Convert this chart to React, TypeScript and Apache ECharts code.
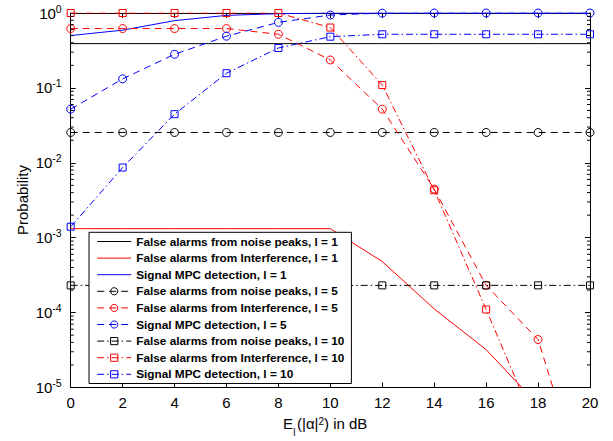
import React, { useEffect, useRef } from 'react';
import * as echarts from 'echarts';

const xValues = [0, 2, 4, 6, 8, 10, 12, 14, 16, 18, 20];

const noiseL1 = [0.39, 0.39, 0.39, 0.39, 0.39, 0.39, 0.39, 0.39, 0.39, 0.39, 0.39];
const interfL1 = [1.32e-3, 1.32e-3, 1.32e-3, 1.32e-3, 1.32e-3, 1.32e-3, 4.8e-4, 1.12e-4, 3.2e-5, 5.9e-6, 1.2e-6];
const signalL1 = [0.5, 0.59, 0.79, 0.93, 0.98, 1, 1, 1, 1, 1, 1];

const noiseL5 = [0.0254, 0.0254, 0.0254, 0.0254, 0.0254, 0.0254, 0.0254, 0.0254, 0.0254, 0.0254, 0.0254];
const interfL5 = [0.62, 0.62, 0.62, 0.62, 0.52, 0.236, 0.052, 4.46e-3, 2.31e-4, 4.37e-5, 2.5e-7];
const signalL5 = [0.052, 0.132, 0.281, 0.49, 0.75, 0.94, 0.995, 1, 1, 1, 1];

const noiseL10 = [2.31e-4, 2.31e-4, 2.31e-4, 2.31e-4, 2.31e-4, 2.31e-4, 2.31e-4, 2.31e-4, 2.31e-4, 2.31e-4, 2.31e-4];
const interfL10 = [1, 1, 1, 1, 1, 0.64, 0.109, 4.3e-3, 1.1e-4, 2.6e-6, 1e-8];
const signalL10 = [1.4e-3, 8.65e-3, 0.0446, 0.157, 0.341, 0.483, 0.52, 0.52, 0.52, 0.52, 0.52];

const seriesNames = [
  'False alarms from noise peaks, l = 1',
  'False alarms from Interference, l = 1',
  'Signal MPC detection, l = 1',
  'False alarms from noise peaks, l = 5',
  'False alarms from Interference, l = 5',
  'Signal MPC detection, l = 5',
  'False alarms from noise peaks, l = 10',
  'False alarms from Interference, l = 10',
  'Signal MPC detection, l = 10',
];

const minorMultipliers = [2, 3, 4, 5, 6, 7, 8, 9];
const decades = [1e-5, 1e-4, 1e-3, 1e-2, 1e-1];

const FONT = '"Liberation Sans", Arial, Helvetica, sans-serif';
const BLACK = '#000000';
const RED = '#ff0000';
const BLUE = '#0000ff';
const DASH = [7, 5];
const DASHDOT = [7, 3, 1.5, 3];

function mk(name: string, data: number[], color: string, dash: any, symbol: string | null) {
  return {
    name,
    type: 'line',
    data: xValues.map((x, i) => [x, data[i]]),
    symbol: symbol || 'none',
    showSymbol: !!symbol,
    symbolSize: symbol === 'circle' ? 8 : 7,
    lineStyle: { color, width: 1, type: dash },
    itemStyle: { color: 'rgba(255,255,255,0)', borderColor: color, borderWidth: 1 },
    emphasis: { disabled: true },
    clip: true,
    z: 3,
  };
}

export default function App() {
  const ref = useRef<HTMLDivElement>(null);
  useEffect(() => {
    const chart = echarts.init(ref.current!, null, { renderer: 'svg' });
    const minorData: number[][] = [];
    decades.forEach((d) => minorMultipliers.forEach((m) => minorData.push([0, d * m])));

    const axisLine = { show: true, onZero: false, lineStyle: { color: BLACK, width: 1 } };
    const tick = { show: true, inside: true, length: 5, lineStyle: { color: BLACK, width: 1 } };

    const hidden = { color: 'rgba(0,0,0,0)', borderColor: 'rgba(0,0,0,0)', borderWidth: 0 };
    const legendData = seriesNames.map((n, i) => (i < 3 ? { name: n, itemStyle: hidden } : { name: n }));

    const option: any = {
      animation: false,
      backgroundColor: '#ffffff',
      textStyle: { fontFamily: FONT },
      grid: { left: 70.7, right: 23, top: 13, bottom: 53.5, containLabel: false },
      xAxis: [
        {
          type: 'value', min: 0, max: 20, interval: 2, position: 'bottom',
          axisLine, axisTick: tick, splitLine: { show: false },
          axisLabel: { fontSize: 15, color: BLACK, margin: 7, fontFamily: FONT },
        },
        {
          type: 'value', min: 0, max: 20, interval: 2, position: 'top',
          axisLine, axisTick: tick, splitLine: { show: false }, axisLabel: { show: false },
        },
      ],
      yAxis: [
        {
          type: 'log', logBase: 10, min: 1e-5, max: 1, position: 'left',
          axisLine, axisTick: tick, splitLine: { show: false },
          axisLabel: {
            margin: 9,
            color: BLACK,
            formatter: (v: number) => `{b|10}{s|${Math.round(Math.log10(v))}}`,
            rich: {
              b: { fontSize: 15, lineHeight: 20, fontFamily: FONT, color: BLACK },
              s: { fontSize: 10.5, lineHeight: 11, verticalAlign: 'top', fontFamily: FONT, color: BLACK },
            },
          },
        },
        {
          type: 'log', logBase: 10, min: 1e-5, max: 1, position: 'right',
          axisLine, axisTick: tick, splitLine: { show: false }, axisLabel: { show: false },
        },
      ],
      legend: {
        show: true,
        data: legendData,
        orient: 'vertical',
        left: 89,
        top: 232.3,
        itemWidth: 34,
        itemHeight: 9,
        itemGap: 4.6,
        padding: [3.2, 7, 3.2, 7.7],
        backgroundColor: '#ffffff',
        borderColor: BLACK,
        borderWidth: 1,
        borderRadius: 0,
        selectedMode: false,
        lineStyle: { width: 1 },
        itemStyle: { borderWidth: 1 },
        textStyle: { fontFamily: FONT, fontWeight: 'bold', fontSize: 11.8, color: BLACK },
        z: 10,
      },
      graphic: [
        {
          type: 'text',
          x: 22.5, y: 200, rotation: Math.PI / 2,
          style: { text: 'Probability', fontSize: 15, fontFamily: FONT, fill: BLACK, align: 'center', verticalAlign: 'middle' },
        },
        {
          type: 'text',
          x: 283, y: 423.7,
          style: {
            text: '{a|E}{sp| }{a|(|α|}{u|2}{a|) in dB}',
            align: 'left', verticalAlign: 'middle', fill: BLACK,
            rich: {
              a: { fontSize: 15, lineHeight: 15, fontFamily: FONT, fill: BLACK },
              sp: { fontSize: 10, width: 4, fontFamily: FONT },
              u: { fontSize: 10, lineHeight: 10, verticalAlign: 'top', fontFamily: FONT, fill: BLACK },
            },
          },
        },
        {
          type: 'text',
          x: 293.3, y: 432.7,
          style: { text: 'l', fontSize: 10, fontFamily: FONT, fill: BLACK, align: 'left', verticalAlign: 'middle' },
        },
      ],
      series: [
        mk(seriesNames[0], noiseL1, BLACK, 'solid', null),
        mk(seriesNames[1], interfL1, RED, 'solid', null),
        mk(seriesNames[2], signalL1, BLUE, 'solid', null),
        mk(seriesNames[3], noiseL5, BLACK, DASH, 'circle'),
        mk(seriesNames[4], interfL5, RED, DASH, 'circle'),
        mk(seriesNames[5], signalL5, BLUE, DASH, 'circle'),
        mk(seriesNames[6], noiseL10, BLACK, DASHDOT, 'rect'),
        mk(seriesNames[7], interfL10, RED, DASHDOT, 'rect'),
        mk(seriesNames[8], signalL10, BLUE, DASHDOT, 'rect'),
        {
          type: 'custom',
          name: 'minorTicks',
          silent: true,
          clip: false,
          z: 5,
          data: minorData,
          renderItem: (params: any, api: any) => {
            const v = api.value(1);
            const pL = api.coord([0, v]);
            const pR = api.coord([20, v]);
            return {
              type: 'group',
              children: [
                { type: 'line', shape: { x1: pL[0], y1: pL[1], x2: pL[0] + 3, y2: pL[1] }, style: { stroke: BLACK, lineWidth: 1 } },
                { type: 'line', shape: { x1: pR[0], y1: pR[1], x2: pR[0] - 3, y2: pR[1] }, style: { stroke: BLACK, lineWidth: 1 } },
              ],
            };
          },
        },
      ],
    };
    chart.setOption(option);
    return () => chart.dispose();
  }, []);
  return (
    <div
      ref={ref}
      style={{ position: 'absolute', left: 0, top: 0, width: 613, height: 441, background: '#ffffff' }}
    />
  );
}
